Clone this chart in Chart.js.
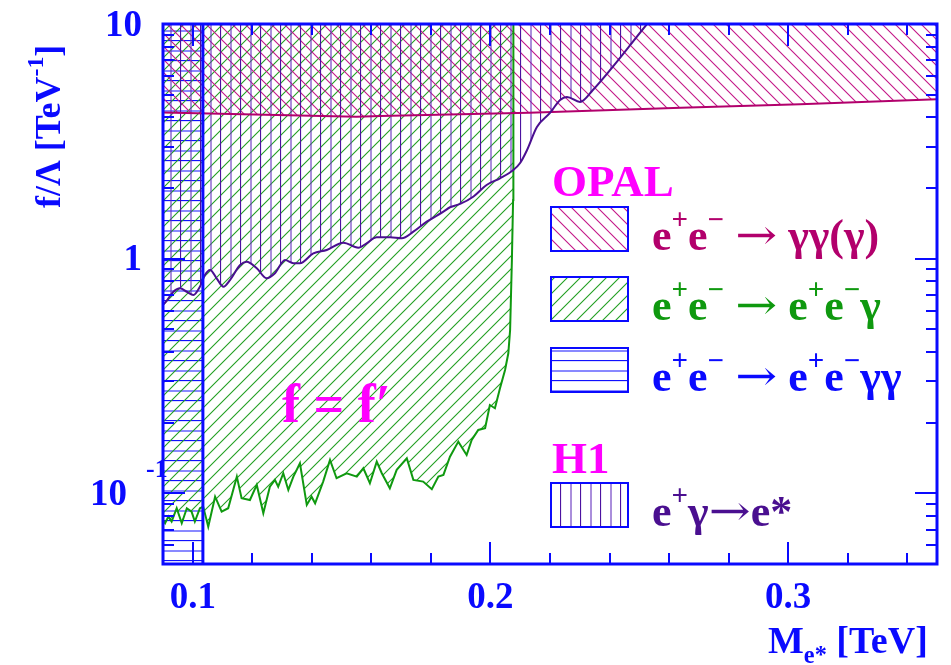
<!DOCTYPE html>
<html>
<head>
<meta charset="utf-8">
<script src="https://cdn.jsdelivr.net/npm/chart.js@4.4.1/dist/chart.umd.min.js"></script>
<style>
  body { margin: 0; background: #fff; }
  canvas { display: block; }
</style>
</head>
<body>
<canvas id="limits" width="951" height="665"></canvas>
<script>
// excited electron: coupling limit f/Lambda [TeV^-1] vs mass M_e* [TeV]
const massRange = [0.09, 0.35];
const couplingRange = [0.05, 10];

const xTickValues = [0.1, 0.2, 0.3];
const xTickLabels = ['0.1', '0.2', '0.3'];
const yTickValues = [10, 1, 0.1];
const yTickBase = ['10', '1', '10'];
const yTickExp = ['', '', '-1'];

// OPAL e+e- -> gamma gamma (gamma): excluded above the line
const opalGGMass = [0.09, 0.155, 0.163, 0.213, 0.264, 0.304, 0.35];
const opalGGLimit = [4.20, 4.03, 4.05, 4.19, 4.40, 4.55, 4.78];

// OPAL e+e- -> e+e- gamma
const opalEEGMass = [0.09, 0.0907, 0.0918, 0.0929, 0.0946, 0.0963, 0.098, 0.0996, 0.1007, 0.1024,
  0.1035, 0.1052, 0.1075, 0.1097, 0.1119, 0.1148, 0.1164, 0.1192, 0.1215, 0.1237,
  0.1259, 0.1276, 0.1287, 0.1304, 0.1321, 0.1338, 0.136, 0.1383, 0.1399, 0.1411,
  0.1438, 0.1461, 0.1483, 0.1517, 0.1551, 0.1573, 0.1595, 0.1618, 0.1635, 0.1662,
  0.1685, 0.1719, 0.1741, 0.1774, 0.1803, 0.1825, 0.1842, 0.1864, 0.1892, 0.192,
  0.1937, 0.1959, 0.1982, 0.1998, 0.2015, 0.2032, 0.2049, 0.206, 0.2066, 0.2072,
  0.2076, 0.2077];
const opalEEGLimit = [0.077, 0.0746, 0.0796, 0.0758, 0.0864, 0.0746, 0.0864, 0.0836, 0.0758, 0.0864,
  0.0878, 0.0721, 0.0968, 0.0836, 0.0864, 0.1178, 0.0953, 0.0937, 0.1086, 0.0823,
  0.1068, 0.1141, 0.1068, 0.1218, 0.1034, 0.1178, 0.1343, 0.0893, 0.0968, 0.0907,
  0.1122, 0.1388, 0.116, 0.1218, 0.1178, 0.1279, 0.1104, 0.1365, 0.1218, 0.1051,
  0.1259, 0.1411, 0.1141, 0.1122, 0.1041, 0.1178, 0.1198, 0.1433, 0.1661, 0.1457,
  0.1689, 0.1863, 0.1894, 0.2379, 0.2305, 0.2804, 0.3356, 0.3952, 0.4968, 0.987,
  1.778, 10];

// OPAL e+e- -> e+e- gamma gamma: low mass band
const opalEEGGMass = [0.09, 0.1034];
const opalEEGGLimit = [0.05, 0.05];

// H1 e+ gamma -> e*
const h1Mass = [0.09, 0.091, 0.0935, 0.0957, 0.098, 0.1002, 0.1024, 0.1041, 0.1058, 0.108,
  0.1103, 0.1125, 0.1159, 0.1181, 0.1215, 0.1248, 0.1276, 0.131, 0.1338, 0.136,
  0.1405, 0.145, 0.1506, 0.1556, 0.1584, 0.1618, 0.1663, 0.1702, 0.1741, 0.1786,
  0.1842, 0.1864, 0.1898, 0.1942, 0.1987, 0.2032, 0.2077, 0.2099, 0.2123, 0.2156,
  0.22, 0.2234, 0.2257, 0.2301, 0.2344, 0.2526];
const h1Limit = [0.635, 0.656, 0.723, 0.748, 0.723, 0.70, 0.76, 0.852, 0.895, 0.825,
  0.76, 0.811, 0.94, 0.971, 0.91, 0.825, 0.867, 0.987, 0.956, 0.956,
  1.054, 1.089, 1.17, 1.114, 1.163, 1.234, 1.234, 1.222, 1.303, 1.438,
  1.586, 1.656, 1.711, 1.837, 2.061, 2.201, 2.388, 2.55, 2.905, 3.64,
  4.177, 4.745, 4.887, 4.653, 5.234, 10];

const BLUE = '#0a0aff';
const PINK = '#ff00ff';
const GG_COLOR = '#b2006c';
const EEG_COLOR = '#0f990f';
const H1_COLOR = '#4a0f90';
const SERIF = '"Liberation Serif", "Times New Roman", serif';

const canvas = document.getElementById('limits');
const ctx = canvas.getContext('2d');

const toPoints = (xs, ys) => xs.map((x, i) => ({ x: x, y: ys[i] }));

// hatch tiles
const hatch = (kind, color, gap, width, light) => {
  const size = (kind === 'h' || kind === 'v') ? gap * 2 : gap;
  const c = document.createElement('canvas');
  c.width = size; c.height = size;
  const g = c.getContext('2d');
  g.strokeStyle = color;
  g.lineWidth = width;
  g.beginPath();
  if (kind === 'fwd') {
    g.moveTo(-1, gap + 1); g.lineTo(gap + 1, -1);
    g.moveTo(-1, 1); g.lineTo(1, -1);
    g.moveTo(gap - 1, gap + 1); g.lineTo(gap + 1, gap - 1);
  } else if (kind === 'back') {
    g.moveTo(-1, -1); g.lineTo(gap + 1, gap + 1);
    g.moveTo(gap - 1, -1); g.lineTo(gap + 1, 1);
    g.moveTo(-1, gap - 1); g.lineTo(1, gap + 1);
  } else if (kind === 'h') {
    g.moveTo(0, 0.5); g.lineTo(size, 0.5);
  } else {
    g.moveTo(0.5, 0); g.lineTo(0.5, size);
  }
  g.stroke();
  if (kind === 'h' || kind === 'v') {
    g.strokeStyle = light;
    g.lineWidth = 2;
    g.beginPath();
    if (kind === 'h') { g.moveTo(0, gap + 1); g.lineTo(size, gap + 1); }
    else { g.moveTo(gap + 1, 0); g.lineTo(gap + 1, size); }
    g.stroke();
  }
  return ctx.createPattern(c, 'repeat');
};

const ggHatch = hatch('back', '#c41888', 13, 1.1);
const eegHatch = hatch('fwd', '#229f22', 13, 1.1);
const eeggHatch = hatch('h', '#1010ff', 10, 1.3, 'rgba(40,40,255,0.55)');
const h1Hatch = hatch('v', '#4c12a0', 10, 1.2, 'rgba(100,50,190,0.55)');

// text with superscripts / subscripts; arrows use a font with a long glyph
const drawRich = (c, x, y, parts, size, color) => {
  let cx = x;
  c.fillStyle = color;
  c.textAlign = 'left';
  c.textBaseline = 'alphabetic';
  parts.forEach(([t, kind]) => {
    if (kind === 'arrow') {
      c.font = `${size * 0.95}px "DejaVu Serif"`;
      const w = c.measureText(t).width;
      c.save();
      c.translate(cx, y - size * 0.02);
      c.scale(1.2, 1);
      c.fillText(t, 0, 0);
      c.restore();
      cx += w * 1.2;
      return;
    }
    let fs = size, dy = 0;
    if (kind === 'sup') { fs = size * 0.66; dy = -size * 0.48; }
    if (kind === 'sub') { fs = size * 0.64; dy = size * 0.26; }
    c.font = `bold ${fs}px ${SERIF}`;
    c.fillText(t, cx, y + dy);
    cx += c.measureText(t).width;
  });
  return cx;
};

const ARROW = ['\u2192', 'arrow'];
const legendRows = [
  { y: 207, fill: ggHatch, color: GG_COLOR,
    parts: [['e'], ['+', 'sup'], ['e'], ['\u2212', 'sup'], [' '], ARROW, [' '], ['\u03b3\u03b3(\u03b3)']] },
  { y: 277, fill: eegHatch, color: EEG_COLOR,
    parts: [['e'], ['+', 'sup'], ['e'], ['\u2212', 'sup'], [' '], ARROW, [' '], ['e'], ['+', 'sup'], ['e'], ['\u2212', 'sup'], ['\u03b3']] },
  { y: 348, fill: eeggHatch, color: BLUE,
    parts: [['e'], ['+', 'sup'], ['e'], ['\u2212', 'sup'], [' '], ARROW, [' '], ['e'], ['+', 'sup'], ['e'], ['\u2212', 'sup'], ['\u03b3\u03b3']] },
  { y: 483, fill: h1Hatch, color: H1_COLOR,
    parts: [['e'], ['+', 'sup'], ['\u03b3'], ARROW, ['e*']] }
];

const frame = {
  id: 'frame',
  afterDraw(chart) {
    const c = chart.ctx;
    const { left, right, top, bottom } = chart.chartArea;
    const xs = chart.scales.x, ys = chart.scales.y;
    c.save();

    // ticks on all four sides, pointing inward
    c.strokeStyle = BLUE;
    c.lineWidth = 2;
    c.beginPath();
    for (let i = 5; i <= 17; i++) {
      const px = Math.round(xs.getPixelForValue(i * 0.02));
      const len = i % 5 === 0 ? 22 : 11;
      c.moveTo(px, bottom); c.lineTo(px, bottom - len);
      c.moveTo(px, top); c.lineTo(px, top + len);
    }
    [0.01, 0.1, 1].forEach(d => {
      for (let k = 1; k <= 9; k++) {
        const v = k * d;
        if (v < couplingRange[0] - 1e-9 || v > couplingRange[1] + 1e-9) continue;
        const py = Math.round(ys.getPixelForValue(v));
        const len = k === 1 ? 22 : 11;
        c.moveTo(left, py); c.lineTo(left + len, py);
        c.moveTo(right, py); c.lineTo(right - len, py);
      }
    });
    c.stroke();

    c.lineWidth = 3;
    c.strokeRect(left, top, right - left, bottom - top);

    // tick labels
    c.fillStyle = BLUE;
    c.font = `bold 37px ${SERIF}`;
    c.textAlign = 'center';
    c.textBaseline = 'alphabetic';
    xTickValues.forEach((v, i) => {
      c.fillText(xTickLabels[i], xs.getPixelForValue(v), bottom + 44);
    });
    yTickValues.forEach((v, i) => {
      const py = ys.getPixelForValue(v);
      c.font = `bold 37px ${SERIF}`;
      c.textAlign = 'right';
      c.textBaseline = 'middle';
      if (yTickExp[i]) {
        c.fillText(yTickBase[i], left - 36, py + 2);
        c.font = `bold 26px ${SERIF}`;
        c.textAlign = 'left';
        c.fillText(yTickExp[i], left - 17, py - 23);
      } else {
        c.fillText(yTickBase[i], left - 21, py + 2);
      }
    });

    // axis titles
    drawRich(c, 768, 653, [['M'], ['e*', 'sub'], [' [TeV]']], 38, BLUE);
    c.save();
    c.translate(60, 208);
    c.rotate(-Math.PI / 2);
    drawRich(c, 0, 0, [['f/\u039b [TeV'], ['-1', 'sup'], [']']], 36, BLUE);
    c.restore();

    // legend
    c.font = `bold 45px ${SERIF}`;
    c.fillStyle = PINK;
    c.textAlign = 'left';
    c.textBaseline = 'alphabetic';
    c.fillText('OPAL', 552, 196);
    c.fillText('H1', 552, 473);
    legendRows.forEach(row => {
      c.fillStyle = row.fill;
      c.fillRect(551, row.y, 77, 44);
      c.strokeStyle = BLUE;
      c.lineWidth = 2;
      c.strokeRect(551, row.y, 77, 44);
      drawRich(c, 652, row.y + 43, row.parts, 44, row.color);
    });

    c.font = `bold 54px ${SERIF}`;
    c.fillStyle = PINK;
    c.textAlign = 'left';
    c.textBaseline = 'alphabetic';
    c.fillText('f = f\u2032', 282, 422);
    c.restore();
  }
};

new Chart(canvas, {
  type: 'line',
  data: {
    datasets: [
      {
        // right edge of the low mass band
        data: toPoints([opalEEGGMass[1], opalEEGGMass[1]], couplingRange),
        borderColor: BLUE, borderWidth: 3, fill: false, tension: 0
      },
      {
        data: toPoints(h1Mass, h1Limit),
        borderColor: H1_COLOR, borderWidth: 2, fill: 'end', backgroundColor: h1Hatch,
        cubicInterpolationMode: 'monotone'
      },
      {
        data: toPoints(opalGGMass, opalGGLimit),
        borderColor: GG_COLOR, borderWidth: 2, fill: 'end', backgroundColor: ggHatch, tension: 0
      },
      {
        data: toPoints(opalEEGMass, opalEEGLimit),
        borderColor: EEG_COLOR, borderWidth: 2, fill: 'end', backgroundColor: eegHatch, tension: 0
      },
      {
        data: toPoints(opalEEGGMass, opalEEGGLimit),
        borderColor: 'rgba(0,0,0,0)', borderWidth: 1, fill: 'end', backgroundColor: eeggHatch, tension: 0
      }
    ]
  },
  options: {
    responsive: false,
    animation: false,
    layout: { padding: { left: 163, right: 14, top: 24, bottom: 101 } },
    elements: { point: { radius: 0 } },
    scales: {
      x: { type: 'linear', min: massRange[0], max: massRange[1], display: false },
      y: { type: 'logarithmic', min: couplingRange[0], max: couplingRange[1], display: false }
    },
    plugins: {
      legend: { display: false },
      tooltip: { enabled: false },
      filler: { drawTime: 'beforeDatasetsDraw' }
    }
  },
  plugins: [frame]
});
</script>
</body>
</html>
